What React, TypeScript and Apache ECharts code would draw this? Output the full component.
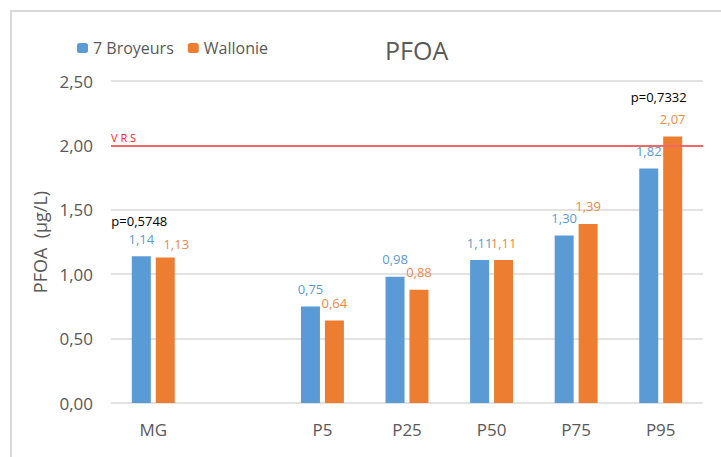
import React, { useEffect, useRef } from "react";
import * as echarts from "echarts";

const categories = ["MG", "", "P5", "P25", "P50", "P75", "P95"];
const broyeurs = [1.14, null, 0.75, 0.98, 1.11, 1.3, 1.82];
const wallonie = [1.13, null, 0.64, 0.88, 1.11, 1.39, 2.07];
const pValues = ["p=0,5748", null, null, null, null, null, "p=0,7332"];
const vrsValue = 2.0;
const yTicks = { min: 0, max: 2.5, interval: 0.5 };

const FONT = "'Open Sans', 'Noto Sans', sans-serif";
const BLUE = "#5b9bd5";
const ORANGE = "#ed7d31";
const GREY = "#595959";

const fmt = (v: number) => v.toFixed(2).replace(".", ",");

export default function App() {
  const ref = useRef<HTMLDivElement>(null);
  useEffect(() => {
    if (!ref.current) return;
    const chart = echarts.init(ref.current, undefined, { renderer: "svg" });

    const pOffsets: Record<string, number[]> = { MG: [-2, -35], P95: [10, -39] };
    const pMarks = categories
      .map((c, i) => ({ c, i }))
      .filter(({ i }) => pValues[i])
      .map(({ c, i }) => ({
        coord: [c, Math.max(broyeurs[i] ?? 0, wallonie[i] ?? 0)],
        label: { formatter: pValues[i] as string, offset: pOffsets[c] || [0, -30] },
      }));

    const orangeData = wallonie.map((v, i) =>
      i === 0 ? { value: v, label: { offset: [11, 4] } } : v
    );

    chart.setOption({
      animation: false,
      textStyle: { fontFamily: FONT },
      title: {
        text: "PFOA",
        left: 385,
        top: 37,
        padding: 0,
        textStyle: { fontFamily: FONT, fontSize: 25, fontWeight: "normal", color: GREY },
      },
      legend: {
        left: 72,
        top: 35,
        itemWidth: 11,
        itemHeight: 10,
        itemGap: 14,
        textStyle: { fontFamily: FONT, fontSize: 16, color: GREY },
        data: ["7 Broyeurs", "Wallonie"],
      },
      graphic: [
        {
          type: "rect",
          shape: { x: 11, y: 11, width: 730, height: 470 },
          style: { fill: "none", stroke: "#d9d9d9", lineWidth: 2 },
          silent: true,
        },
      ],
      grid: { left: 111, right: 18, top: 81, bottom: 54 },
      xAxis: {
        type: "category",
        data: categories,
        axisLine: { show: false },
        axisTick: { show: false },
        axisLabel: { fontFamily: FONT, fontSize: 17, color: GREY, margin: 18 },
      },
      yAxis: {
        type: "value",
        min: yTicks.min,
        max: yTicks.max,
        interval: yTicks.interval,
        name: "PFOA  (µg/L)",
        nameLocation: "middle",
        nameGap: 60,
        nameTextStyle: { fontFamily: FONT, fontSize: 18, color: GREY },
        axisLabel: {
          fontFamily: FONT,
          fontSize: 17,
          color: GREY,
          margin: 18,
          formatter: (v: number) => fmt(v),
        },
        splitLine: { lineStyle: { color: "#d9d9d9", width: 1.5 } },
      },
      series: [
        {
          name: "7 Broyeurs",
          type: "bar",
          data: broyeurs,
          barWidth: 19,
          barGap: "26%",
          itemStyle: { color: BLUE },
          label: {
            show: true,
            position: "top",
            distance: 11,
            fontFamily: FONT,
            fontSize: 13,
            color: BLUE,
            formatter: (p: any) => fmt(p.value),
          },
          markPoint: {
            symbol: "circle",
            symbolSize: 0,
            label: {
              show: true,
              position: "inside",
              fontFamily: FONT,
              fontSize: 13,
              color: "#000",
            },
            data: pMarks,
          },
          markLine: {
            silent: true,
            symbol: "none",
            lineStyle: { color: "#f26666", width: 2, type: "solid" },
            label: {
              show: true,
              position: "insideStartTop",
              formatter: "V R S",
              fontFamily: FONT,
              fontSize: 11,
              color: "#ff2020",
              distance: [0, 2],
            },
            data: [{ yAxis: vrsValue }],
          },
        },
        {
          name: "Wallonie",
          type: "bar",
          data: orangeData,
          barWidth: 19,
          barGap: "26%",
          itemStyle: { color: ORANGE },
          label: {
            show: true,
            position: "top",
            distance: 11,
            fontFamily: FONT,
            fontSize: 13,
            color: "#f0894a",
            formatter: (p: any) => fmt(p.value),
          },
        },
      ],
    });
    return () => chart.dispose();
  }, []);
  return (
    <div
      ref={ref}
      style={{ position: "fixed", left: 0, top: 0, width: 721, height: 457, background: "#fff" }}
    />
  );
}
